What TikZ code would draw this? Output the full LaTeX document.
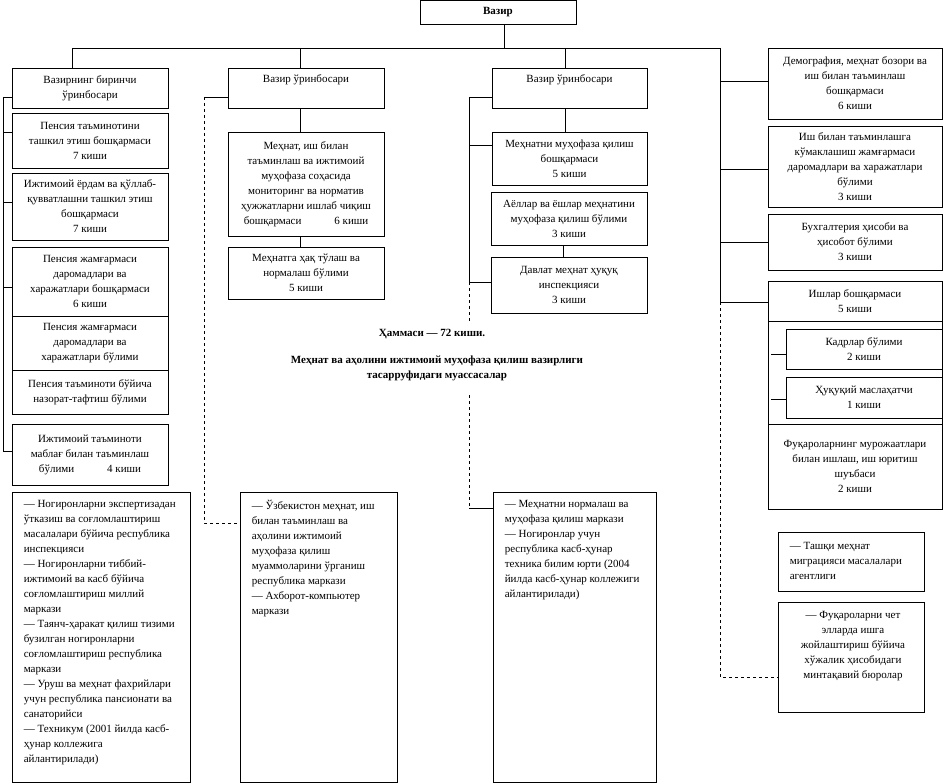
\documentclass[tikz,border=0pt]{standalone}
\usepackage{fontspec}
\setmainfont{Liberation Serif}
\newcommand\myfs{\fontsize{11}{15}\selectfont}
\tikzset{
 box/.style={draw, line width=0.8pt, inner sep=0pt, align=center, font=\myfs},
 txt/.style={inner sep=0pt, align=left, font=\myfs},
 ctxt/.style={inner sep=0pt, align=center, font=\myfs},
 btxt/.style={inner sep=0pt, align=center, font=\myfs\bfseries},
 conn/.style={line width=0.8pt},
 dline/.style={line width=0.8pt, dash pattern=on 3pt off 3pt},
}
\newcommand\bx[7][]{\node[box,minimum width={(#5-#3)*1pt},minimum height={(#6-#4)*1pt},#1] (#2) at ({(#3+#5)/2},{(#4+#6)/2}) {#7};}
\begin{document}
\begin{tikzpicture}[x=1pt,y=-1pt]
\useasboundingbox[fill=white] (0,0) rectangle (944,783);

% top
\bx[font=\myfs\bfseries]{vazir}{420}{0.5}{576}{24}{Вазир}

% left column
\bx{d1}{12}{68}{168}{108}{Вазирнинг биринчи\\ўринбосари}
\bx{l1}{12}{113}{168}{168}{Пенсия таъминотини\\ташкил этиш бошқармаси\\7 киши}
\bx{l2}{12}{173}{168}{240}{Ижтимоий ёрдам ва қўллаб-\\қувватлашни ташкил этиш\\бошқармаси\\7 киши}
\bx{l3}{12}{247}{168}{316}{Пенсия жамғармаси\\даромадлари ва\\харажатлари бошқармаси\\6 киши}
\bx{l4}{12}{316}{168}{370}{Пенсия жамғармаси\\даромадлари ва\\харажатлари бўлими}
\bx{l5}{12}{370}{168}{414}{Пенсия таъминоти бўйича\\назорат-тафтиш бўлими}
\bx{l6}{12}{424}{168}{485}{Ижтимоий таъминоти\\маблағ билан таъминлаш\\бўлими\hspace{3em}4 киши}
\bx{lb}{12}{492}{190}{782}{}
\node[txt, anchor=north west] (lbt) at ([shift={(12,8)}]lb.north west) {— Ногиронларни экспертизадан\\ўтказиш ва соғломлаштириш\\масалалари бўйича республика\\инспекцияси\\— Ногиронларни тиббий-\\ижтимоий ва касб бўйича\\соғломлаштириш миллий\\маркази\\— Таянч-ҳаракат қилиш тизими\\бузилган ногиронларни\\соғломлаштириш республика\\маркази\\— Уруш ва меҳнат фахрийлари\\учун республика пансионати ва\\санаторийси\\— Техникум (2001 йилда касб-\\ҳунар коллежига\\айлантирилади)};

% second column
\bx{d2}{228}{68}{384}{108}{Вазир ўринбосари\\\strut}
\bx{m1}{228}{132}{384}{236}{Меҳнат, иш билан\\таъминлаш ва ижтимоий\\муҳофаза соҳасида\\мониторинг ва норматив\\ҳужжатларни ишлаб чиқиш\\бошқармаси\hspace{3em}6 киши}
\bx{m2}{228}{247}{384}{299}{Меҳнатга ҳақ тўлаш ва\\нормалаш бўлими\\5 киши}
\bx{mb}{240}{492}{397}{782}{}
\node[txt, anchor=north west] (mbt) at ([shift={(12,8)}]mb.north west) {— Ўзбекистон меҳнат, иш\\билан таъминлаш ва\\аҳолини ижтимоий\\муҳофаза қилиш\\муаммоларини ўрганиш\\республика маркази\\— Ахборот-компьютер\\маркази};

% third column
\bx{d3}{492}{68}{647}{108}{Вазир ўринбосари\\\strut}
\bx{c1}{492}{132}{647}{185}{Меҳнатни муҳофаза қилиш\\бошқармаси\\5 киши}
\bx{c2}{491}{192}{647}{245}{Аёллар ва ёшлар меҳнатини\\муҳофаза қилиш бўлими\\3 киши}
\bx{c3}{491}{257}{647}{313}{Давлат меҳнат ҳуқуқ\\инспекцияси\\3 киши}
\bx{cb}{493}{492}{656}{782}{}
\node[txt, anchor=north west] (cbt) at ([shift={(12,8)}]cb.north west) {— Меҳнатни нормалаш ва\\муҳофаза қилиш маркази\\— Ногиронлар учун\\республика касб-ҳунар\\техника билим юрти (2004\\йилда касб-ҳунар коллежиги\\айлантирилади)};

% right column
\bx{r1}{768}{48}{942}{119}{Демография, меҳнат бозори ва\\иш билан таъминлаш\\бошқармаси\\6 киши}
\bx{r2}{768}{126}{942}{207}{Иш билан таъминлашга\\кўмаклашиш жамғармаси\\даромадлари ва харажатлари\\бўлими\\3 киши}
\bx{r3}{768}{214}{942}{270}{Бухгалтерия ҳисоби ва\\ҳисобот бўлими\\3 киши}
\bx{r4}{768}{281}{942}{509}{}
\bx{r4h}{768}{281}{942}{321}{Ишлар бошқармаси\\5 киши}
\bx{r4a}{786}{329}{942}{369}{Кадрлар бўлими\\2 киши}
\bx{r4b}{786}{377}{942}{418}{Ҳуқуқий маслаҳатчи\\1 киши}
\bx{r4f}{768}{424}{942}{509}{Фуқароларнинг мурожаатлари\\билан ишлаш, иш юритиш\\шуъбаси\\2 киши}
\bx{r5}{778}{532}{924}{591}{}
\node[txt, anchor=north west] (r5t) at ([shift={(12,10)}]r5.north west) {— Ташқи меҳнат\\миграцияси масалалари\\агентлиги};
\bx{r6}{778}{602}{924}{712}{}
\node[ctxt, anchor=north] (r6t) at ([shift={(2,9)}]r6.north) {— Фуқароларни чет\\элларда ишга\\жойлаштириш бўйича\\хўжалик ҳисобидаги\\минтақавий бюролар};

% middle texts
\node[btxt] (tot) at (432,334) {Ҳаммаси — 72 киши.};
\node[btxt] (inst) at (437,368.5) {Меҳнат ва аҳолини ижтимоий муҳофаза қилиш вазирлиги\\тасарруфидаги муассасалар};

% top bus
\coordinate (BL) at (72,48);
\coordinate (BR) at (720,48);
\coordinate (B2) at (300,48);
\coordinate (B3) at (565,48);
\draw[conn] ([xshift=6pt]vazir.south) -- ([xshift=6pt]vazir.south |- BL);
\draw[conn] (BL) -- (BR);
\draw[conn] (BL) -- (BL |- d1.north);
\draw[conn] (B2) -- (B2 |- d2.north);
\draw[conn] (B3) -- (B3 |- d3.north);

% left bus
\coordinate (L1) at (3,97);
\coordinate (L2) at (3,132);
\coordinate (L3) at (3,202);
\coordinate (L4) at (3,287);
\coordinate (L5) at (3,451);
\draw[conn] (L1) -- (L5);
\foreach \p/\n in {L1/d1, L2/l1, L3/l2, L4/l3, L5/l6}
  \draw[conn] (\p) -- (\p -| \n.west);

% second column links
\coordinate (M1) at (204,97);
\coordinate (M2) at (204,523);
\draw[conn] (M1) -- (M1 -| d2.west);
\draw[dline] (M1) -- (M2) -- (M2 -| mb.west);
\draw[conn] (B2 |- d2.south) -- (B2 |- m1.north);
\draw[conn] (B2 |- m1.south) -- (B2 |- m2.north);

% third column links
\coordinate (C1) at (469,97);
\coordinate (C2) at (469,145);
\coordinate (C3) at (469,282);
\coordinate (C4) at (469,322);
\coordinate (C5) at (469,395);
\coordinate (C6) at (469,508);
\draw[conn] (C1) -- (C3);
\draw[conn] (C1) -- (C1 -| d3.west);
\draw[conn] (C2) -- (C2 -| c1.west);
\draw[conn] (C3) -- (C3 -| c3.west);
\draw[dline] (C3) -- (C4);
\draw[dline] (C5) -- (C6);
\draw[conn] (C6) -- (C6 -| cb.west);
\draw[conn] (B3 |- d3.south) -- (B3 |- c1.north);
\coordinate (C7) at (563,0);
\draw[conn] (C7 |- c2.south) -- (C7 |- c3.north);

% right column links
\coordinate (R1) at (720,81);
\coordinate (R2) at (720,169);
\coordinate (R3) at (720,242);
\coordinate (R4) at (720,302);
\coordinate (R5) at (720,677);
\draw[conn] (BR) -- (R4);
\foreach \p/\n in {R1/r1, R2/r2, R3/r3, R4/r4}
  \draw[conn] (\p) -- (\p -| \n.west);
\draw[dline] (R4) -- (R5) -- (R5 -| r6.west);
\coordinate (K1) at (771,354);
\coordinate (K2) at (771,399);
\draw[conn] (K1) -- (K1 -| r4a.west);
\draw[conn] (K2) -- (K2 -| r4b.west);
\end{tikzpicture}
\end{document}
